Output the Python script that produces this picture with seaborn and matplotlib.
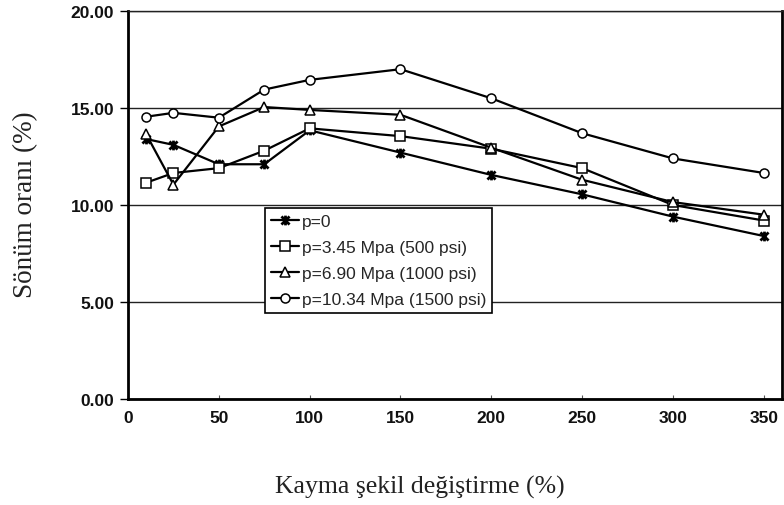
import numpy as np
import pandas as pd
import matplotlib
matplotlib.use("Agg")
import matplotlib.pyplot as plt
from matplotlib.path import Path
import seaborn as sns

# Shear strain (%) and damping ratio (%) for each confining pressure
strain = [10, 25, 50, 75, 100, 150, 200, 250, 300, 350]
p_0 = [13.4, 13.1, 12.1, 12.1, 13.85, 12.7, 11.55, 10.55, 9.4, 8.4]
p_345 = [11.15, 11.65, 11.9, 12.8, 13.95, 13.55, 12.9, 11.9, 10.0, 9.2]
p_690 = [13.65, 11.05, 14.05, 15.05, 14.9, 14.65, 12.95, 11.3, 10.15, 9.5]
p_1034 = [14.55, 14.75, 14.5, 15.95, 16.45, 17.0, 15.5, 13.7, 12.4, 11.65]

series_labels = ["p=0", "p=3.45 Mpa (500 psi)", "p=6.90 Mpa (1000 psi)",
                 "p=10.34 Mpa (1500 psi)"]
x_ticks = [0, 50, 100, 150, 200, 250, 300, 350]
y_ticks = [0, 5, 10, 15, 20]

sns.set_theme(style="white")
plt.rcParams["font.family"] = ["Liberation Sans", "DejaVu Sans"]

# asterisk-like marker: an X with a vertical stroke
star_path = Path(
    [(-1, -1), (1, 1), (-1, 1), (1, -1), (0, -1.2), (0, 1.2)],
    [Path.MOVETO, Path.LINETO, Path.MOVETO, Path.LINETO, Path.MOVETO, Path.LINETO],
)

fig = plt.figure(figsize=(7.84, 5.06), dpi=100)
ax = fig.add_axes([128 / 784, 1 - 400 / 506, 654 / 784, 388 / 506])

styles = [
    dict(marker=star_path, markersize=7, markeredgewidth=2.0, markerfacecolor="k"),
    dict(marker="s", markersize=6.5, markeredgewidth=1.1, markerfacecolor="white"),
    dict(marker="^", markersize=7, markeredgewidth=1.1, markerfacecolor="white"),
    dict(marker="o", markersize=6.5, markeredgewidth=1.1, markerfacecolor="white"),
]

for vals, lab, st in zip([p_0, p_345, p_690, p_1034], series_labels, styles):
    df = pd.DataFrame({"strain": strain, "damping": vals})
    sns.lineplot(data=df, x="strain", y="damping", ax=ax, color="black",
                 linewidth=1.6, markeredgecolor="black", label=lab, **st)

ax.set_xlim(0, 360)
ax.set_ylim(0, 20)
ax.set_xticks(x_ticks)
ax.set_yticks(y_ticks)
ax.set_yticklabels([f"{v:.2f}" for v in y_ticks])
ax.set_xticklabels([str(v) for v in x_ticks])

for lab in ax.get_xticklabels() + ax.get_yticklabels():
    lab.set_fontsize(12.5)
    lab.set_fontweight("bold")
    lab.set_color("#111111")

ax.tick_params(axis="y", direction="out", length=6, width=1, color="black", pad=4, left=True)
ax.tick_params(axis="x", direction="in", length=3, width=0.8, color="#555555", pad=8, bottom=True)

ax.yaxis.grid(True, color="#222222", linewidth=1.0)
ax.xaxis.grid(False)
ax.set_axisbelow(True)

for side in ["left", "bottom", "right"]:
    ax.spines[side].set_visible(True)
    ax.spines[side].set_color("black")
    ax.spines[side].set_linewidth(2.0)
ax.spines["top"].set_visible(True)
ax.spines["top"].set_color("#222222")
ax.spines["top"].set_linewidth(1.0)

serif = ["Liberation Serif", "DejaVu Serif"]
ax.set_xlabel("Kayma şekil değiştirme (%)", fontsize=18.5, family=serif, color="#222222")
ax.set_ylabel("Sönüm oranı (%)", fontsize=19.5, family=serif, color="#222222")
ax.xaxis.set_label_coords(0.446, -0.196)
ax.yaxis.set_label_coords(-0.138, 0.503)

leg = ax.legend(loc="upper left", bbox_to_anchor=(0.209, 0.492), frameon=True,
                fancybox=False, framealpha=1, edgecolor="black", fontsize=12.5,
                handlelength=1.6, handletextpad=0.2, borderpad=0.35,
                labelspacing=0.62, borderaxespad=0)
leg.get_frame().set_linewidth(1.2)

fig.savefig("out.png", dpi=100, facecolor="white")
